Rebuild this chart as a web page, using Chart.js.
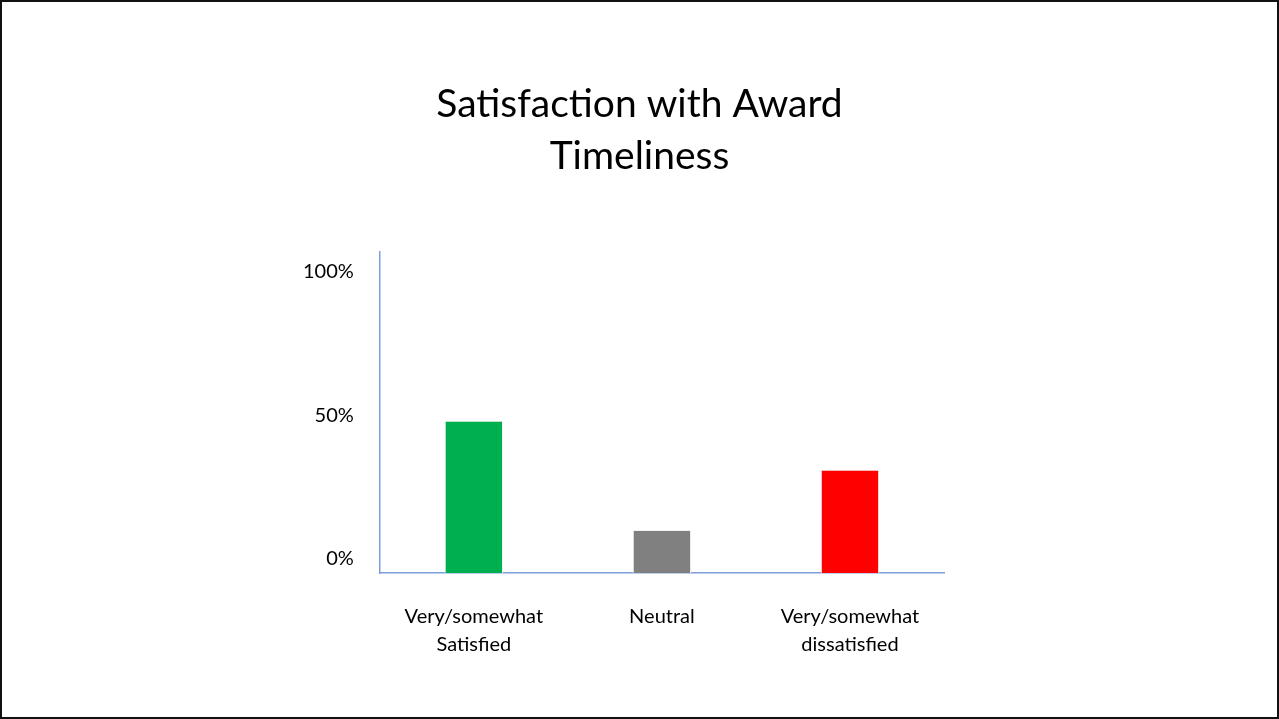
<!DOCTYPE html>
<html>
<head>
<meta charset="utf-8">
<script src="https://cdn.jsdelivr.net/npm/chart.js@4/dist/chart.umd.min.js"></script>
<style>
  html, body { margin: 0; padding: 0; background: #fff; }
  #slide {
    position: relative;
    width: 1279px; height: 719px;
    box-sizing: border-box;
    border: 2px solid #111;
    background: #fff;
  }
  #graficos { position: absolute; left: 0; top: 0; }
</style>
</head>
<body>
<div id="slide"><canvas id="graficos" width="1275" height="715"></canvas></div>
<script>
// datos
const categorias = [['Very/somewhat', 'Satisfied'], 'Neutral', ['Very/somewhat', 'dissatisfied']];
const porcentajes = [48, 10, 31];
const colores = ['#00b050', '#808080', '#ff0000'];
const ticksY = [0, 50, 100];
const titulo = ['Satisfaction with Award', 'Timeliness'];

const fuente = 'Lato, "Open Sans", sans-serif';
const azulEje = '#7f9fda';

var ctx = document.getElementById('graficos').getContext('2d');
let myChart = new Chart(ctx, {
    type: 'bar',
    data: {
        labels: categorias,
        datasets: [{
            data: porcentajes,
            backgroundColor: colores,
            borderColor: '#f2f2f2',
            borderWidth: 1,
            base: -5,
            barPercentage: 0.31,
            categoryPercentage: 1,
            yAxisID: 'y'
        }]
    },
    options: {
        responsive: false,
        animation: false,
        layout: {
            // padding simetrico para que el titulo quede centrado
            padding: { left: 275, right: 275, top: 76, bottom: 28 }
        },
        plugins: {
            legend: { display: false },
            tooltip: { enabled: false },
            title: {
                display: true,
                text: titulo,
                color: '#000',
                font: { family: fuente, size: 39, weight: 'normal', lineHeight: 1.34 },
                padding: { top: 0, bottom: 69 }
            }
        },
        scales: {
            x: {
                grid: { display: false, drawTicks: false },
                border: { display: true, color: azulEje, width: 1.5 },
                ticks: {
                    color: '#000',
                    padding: 30,
                    maxRotation: 0,
                    font: { family: fuente, size: 20, lineHeight: 1.4 }
                }
            },
            y: {
                min: -5,
                max: 107,
                grid: { display: false, drawTicks: false },
                border: { display: true, color: azulEje, width: 1.5 },
                afterBuildTicks: function (eje) {
                    eje.ticks = ticksY.map(v => ({ value: v }));
                },
                ticks: {
                    color: '#000',
                    padding: 26,
                    font: { family: fuente, size: 20 },
                    callback: v => v + '%'
                }
            },
            // eje vacio a la derecha, solo ocupa espacio
            relleno: {
                position: 'right',
                grid: { display: false, drawTicks: false },
                border: { display: false },
                ticks: { display: false },
                afterFit: function (eje) { eje.width = 58; }
            }
        }
    }
});
</script>
</body>
</html>
